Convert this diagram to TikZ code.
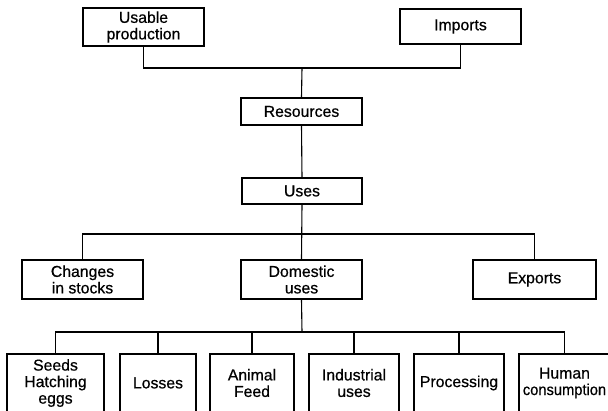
\documentclass[tikz,border=0pt]{standalone}
\usepackage{fontspec}
\usepackage{graphicx}
\setmainfont[FakeBold=0.6]{Liberation Sans}
\begin{document}
\begin{tikzpicture}[x=1pt,y=1pt,
  box/.style={draw, line width=1.1pt, inner sep=0pt, align=center,
    font=\fontsize{15.8}{16.5}\selectfont},
  conn/.style={line width=1.1pt}]
\useasboundingbox (0,0) rectangle (608,410);
\fill[white] (0,0) rectangle (608,410);
% top row
\node[box, minimum width=121pt, minimum height=38pt] (up) at (143.5,383) {Usable\\production};
\node[box, minimum width=121pt, minimum height=35pt] (imp) at (460.5,383.5) {Imports};
\node[box, minimum width=121pt, minimum height=27pt] (res) at (301.5,298.5) {Resources};
\node[box, minimum width=120pt, minimum height=26pt] (uses) at (302,219) {Uses};
% middle row
\node[box, minimum width=121pt, minimum height=39pt] (chg) at (82.5,130.5) {Changes\\in stocks};
\node[box, minimum width=121pt, minimum height=39pt] (dom) at (301.5,130.5) {Domestic\\uses};
\node[box, minimum width=123pt, minimum height=39pt] (exp) at (534.5,130.5) {Exports};
% bottom row
\node[box, minimum width=97pt, minimum height=58pt] (seeds) at (55.5,27) {Seeds\\Hatching\\eggs};
\node[box, minimum width=76pt, minimum height=58pt] (loss) at (158,27) {Losses};
\node[box, minimum width=84pt, minimum height=58pt] (feed) at (252,27) {Animal\\Feed};
\node[box, minimum width=90pt, minimum height=58pt] (ind) at (354,27) {Industrial\\uses};
\node[box, minimum width=90pt, minimum height=58pt] (proc) at (459,27) {Processing};
\node[box, minimum width=91pt, minimum height=58pt] (hum) at (564.5,27) {Human\\\scalebox{0.93}[1]{consumption}};
% junctions
\coordinate (j1) at (302,342);
\coordinate (j2) at (302,176);
\coordinate (j3) at (302,78);
% connectors
\draw[conn] (up.south) |- (j1) -| (imp.south);
\draw[conn] (j1) -- (res.north);
\draw[conn] (res.south) -- (uses.north);
\draw[conn] (uses.south) -- (dom.north);
\draw[conn] (chg.north) |- (j2) -| (exp.north);
\draw[conn] (dom.south) -- (j3);
\draw[conn] (seeds.north) |- (j3) -| (hum.north);
\draw[conn] (loss.north) -- (loss.north |- j3);
\draw[conn] (feed.north) -- (feed.north |- j3);
\draw[conn] (ind.north) -- (ind.north |- j3);
\draw[conn] (proc.north) -- (proc.north |- j3);
\end{tikzpicture}
\end{document}
